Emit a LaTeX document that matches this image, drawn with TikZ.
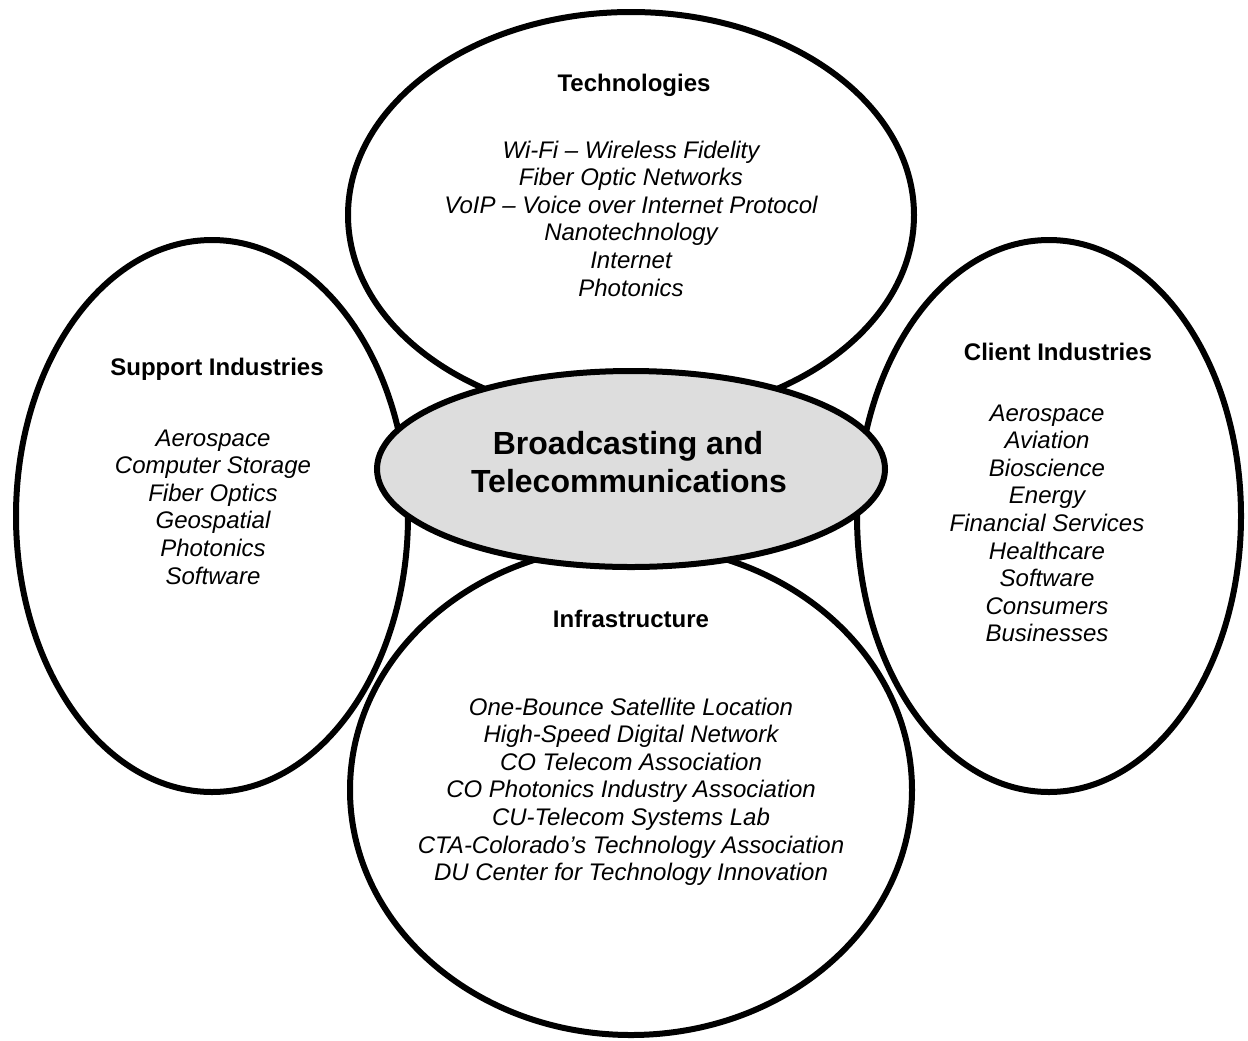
\documentclass[tikz,border=0pt]{standalone}
\usepackage{fontspec}
\setmainfont{Liberation Sans}
\usetikzlibrary{shapes.geometric}
\definecolor{coregray}{RGB}{221,221,221}
\begin{document}
\begin{tikzpicture}[x=0.5pt,y=-0.5pt,
  blob/.style={draw=black, line width=3pt, ellipse, inner sep=0pt, outer sep=0pt, fill=white},
  title/.style={font=\bfseries\fontsize{12pt}{13.8pt}\selectfont, anchor=base, inner sep=0pt},
  item/.style={font=\itshape\fontsize{12pt}{13.8pt}\selectfont, anchor=base, inner sep=0pt},
  corelabel/.style={font=\bfseries\fontsize{16pt}{19pt}\selectfont, anchor=base, inner sep=0pt}]
\useasboundingbox (0,0) rectangle (1248,1040);
% outer ellipses
\node[blob, minimum width=283pt, minimum height=203pt] (tech) at (631,215) {};
\node[blob, minimum width=196pt, minimum height=276pt] (support) at (212,516) {};
\node[blob, minimum width=192pt, minimum height=276pt] (client) at (1049,516) {};
\node[blob, minimum width=281pt, minimum height=245pt] (infra) at (631,790) {};
% central ellipse
\node[blob, fill=coregray, minimum width=254pt, minimum height=98pt] (core) at (631,469) {};
\node[corelabel] (core1) at (628,454) {Broadcasting and};
\node[corelabel] (core2) at (629,492) {Telecommunications};
% Technologies
\node[title] (techtitle) at (634,91) {Technologies};
\foreach \t [count=\i] in {{Wi-Fi – Wireless Fidelity},{Fiber Optic Networks},{VoIP – Voice over Internet Protocol},{Nanotechnology},{Internet},{Photonics}}
  \node[item] (tech\i) at (631,{158+27.6*(\i-1)}) {\t};
% Support Industries
\node[title] (supporttitle) at (217,375) {Support Industries};
\foreach \t [count=\i] in {{Aerospace},{Computer Storage},{Fiber Optics},{Geospatial},{Photonics},{Software}}
  \node[item] (support\i) at (213,{446+27.6*(\i-1)}) {\t};
% Client Industries
\node[title] (clienttitle) at (1058,360) {Client Industries};
\foreach \t [count=\i] in {{Aerospace},{Aviation},{Bioscience},{Energy},{Financial Services},{Healthcare},{Software},{Consumers},{Businesses}}
  \node[item] (client\i) at (1047,{421+27.6*(\i-1)}) {\t};
% Infrastructure
\node[title] (infratitle) at (631,627) {Infrastructure};
\foreach \t [count=\i] in {{One-Bounce Satellite Location},{High-Speed Digital Network},{CO Telecom Association},{CO Photonics Industry Association},{CU-Telecom Systems Lab},{CTA-Colorado’s Technology Association},{DU Center for Technology Innovation}}
  \node[item] (infra\i) at (631,{715+27.65*(\i-1)}) {\t};
\end{tikzpicture}
\end{document}
